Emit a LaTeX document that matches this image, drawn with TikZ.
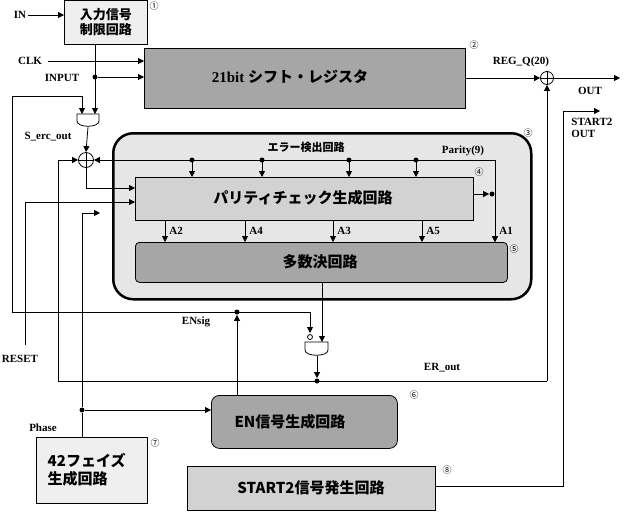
\documentclass[tikz,border=0pt]{standalone}
\usepackage{fontspec}
\setmainfont{Liberation Serif}
\newfontfamily\jp{Noto Sans CJK JP}
\usetikzlibrary{arrows.meta}
\definecolor{gA}{HTML}{A6A6A6}
\definecolor{gB}{HTML}{D2D2D2}
\definecolor{gC}{HTML}{E6E6E6}
\definecolor{gD}{HTML}{EFEFEF}
\begin{document}
\begin{tikzpicture}[x=1pt,y=-1pt,
  line width=0.8pt,
  >={Triangle[length=6pt,width=6pt]},
  box/.style={draw,line width=0.8pt,inner sep=0pt},
  lbl/.style={font=\bfseries\fontsize{11}{12}\selectfont,inner sep=1pt},
  jt/.style={font=\jp\bfseries\fontsize{15}{18}\selectfont},
  num/.style={font=\fontsize{9}{9}\selectfont\jp},
  dot/.style={circle,fill,inner sep=0pt,minimum size=5pt}]
\useasboundingbox (0,0) rectangle (628,512);
% boxes
\node[box,fill=gD,minimum width=83,minimum height=44,anchor=north west,align=center,font=\jp\bfseries\fontsize{13}{15}\selectfont] (inb) at (64,0) {入力信号\\制限回路};
\node[num] at (154,6) {①};
\node[box,fill=gA,minimum width=321,minimum height=60,anchor=north west] (reg) at (144,48) {};
\node[jt] at (290,77) {\fontspec{Liberation Serif}\bfseries 21bit {\jp シフト・レジスタ}};
\node[num] at (474,45) {②};
\node[box,line width=2.5pt,fill=gC,rounded corners=20,minimum width=418,minimum height=166,anchor=north west] (err) at (112,132) {};
\node[lbl,font=\jp\bfseries\fontsize{11}{12}\selectfont] at (306,147) {エラー検出回路};
\node[num] at (528,133) {③};
\node[box,fill=gB,minimum width=338,minimum height=43,anchor=north west] (par) at (135,177) {};
\node[jt] at (303,198) {パリティチェック生成回路};
\node[num] at (479,172) {④};
\node[box,fill=gA,rounded corners=4,minimum width=372,minimum height=40,anchor=north west] (maj) at (135,242) {};
\node[jt] at (320,262) {多数決回路};
\node[num] at (514,249) {⑤};
\node[box,fill=gA,rounded corners=8,minimum width=186,minimum height=53,anchor=north west] (enb) at (211,395) {};
\node[jt] at (290,422) {EN信号生成回路};
\node[num] at (414,395) {⑥};
\node[box,fill=gD,minimum width=111,minimum height=66,anchor=north west] (ph) at (36,437) {};
\node[jt,align=left,anchor=west] at (44,470) {42フェイズ\\生成回路};
\node[num] at (155,443) {⑦};
\node[box,fill=gB,minimum width=248,minimum height=44,anchor=north west] (st) at (187,466) {};
\node[jt] at (311,488) {START2信号発生回路};
\node[num] at (447,470) {⑧};
% labels
\node[lbl] (inl) at (20,15) {IN};
\node[lbl] at (30,61) {CLK};
\node[lbl] at (62,78) {INPUT};
\node[lbl] at (48,137) {S\_erc\_out};
\node[lbl] at (463,151) {Parity(9)};
\node[lbl] at (521,62) {REG\_Q(20)};
\node[lbl] at (590,91) {OUT};
\node[lbl,align=left,anchor=west] at (570,128) {START2\\ OUT};
\node[lbl] at (20,359) {RESET};
\node[lbl] at (196,322) {ENsig};
\node[lbl] at (442,368) {ER\_out};
\node[lbl] at (43,428) {Phase};
% input path
\draw[->] (inl.east) -- (inb.west |- inl.east);
\draw[->] (48,61) -- (reg.west |- 0,61);
\coordinate (inD) at (95,77);
\draw (inb.south -| inD) -- (95,108);
\draw[->] (95,100) -- (95,114);
\node[dot] (inp) at (inD) {};
\draw[->] (inp) -- (reg.west |- inp);
% gate1
\draw[fill=white] (77,114) -- (99,114) -- (99,121) .. controls (99,128) and (77,128) .. (77,121) -- cycle;
\coordinate (g1o) at (88,127);
\node[circle,draw,fill=white,minimum size=15pt,inner sep=0pt] (x1) at (86,160) {};
\draw (x1.north) -- (x1.south) (x1.west) -- (x1.east);
\draw[->] (g1o) -- (x1.north);
% ENsig
\node[dot] (ens) at (237,312) {};
\draw[->] (enb.north -| ens) -- (ens);
\draw[->] (310,312) -- (310,333);
\draw (12,312) -- (310,312);
\draw[->] (12,312) -- (12,96) -- (82,96) -- (82,114);
% reset
\draw[->] (25,345) -- (25,202) -- (par.west |- 0,202);
% phase
\node[dot] (phd) at (82,410) {};
\draw (ph.north -| phd) -- (phd) -- (82,213);
\draw[->] (82,213) -- (100,213);
\draw[->] (phd) -- (enb.west |- phd);
% xor1
\draw[->] (x1.south) -- (86,188) -- (par.west |- 0,188);
\draw[->] (58,381) -- (58,160) -- (x1.west);
\draw[->] (495,160) -- (x1.east);
\foreach \x in {192,262,349,416}{\node[dot] at (\x,160) {}; \draw[->] (\x,160) -- (\x,177);}
% parity out / A signals
\node[dot] (pd) at (492,194) {};
\draw[->] (par.east |- pd) -- (pd);
\draw[->] (495,160) -- (495,242);
\foreach \x/\t in {165/A2,245/A4,333/A3,422/A5,495/A1}{
  \draw[->] (\x,220) -- (\x,242);
  \node[lbl,anchor=west] at (\x+3,231) {\t};}
% gate2
\draw[->] (maj.south -| 322,0) -- (322,342);
\draw[fill=white] (305,342) -- (328,342) -- (328,350) .. controls (328,357) and (305,357) .. (305,350) -- cycle;
\draw[fill=white] (310,337) circle (2.5);
\node[dot] (erd) at (317,381) {};
\draw[->] (317,356) -- (erd);
\draw (58,381) -- (547,381);
% output
\node[circle,draw,fill=white,minimum size=13pt,inner sep=0pt] (x2) at (547,78) {};
\draw (x2.north) -- (x2.south) (x2.west) -- (x2.east);
\draw[->] (reg.east |- x2) -- (x2.west);
\draw[->] (547,381) -- (x2.south);
\draw[->] (x2.east) -- (620,78);
\draw[->] (st.east |- 0,486) -- (563,486) -- (563,111) -- (600,111);
\end{tikzpicture}
\end{document}
